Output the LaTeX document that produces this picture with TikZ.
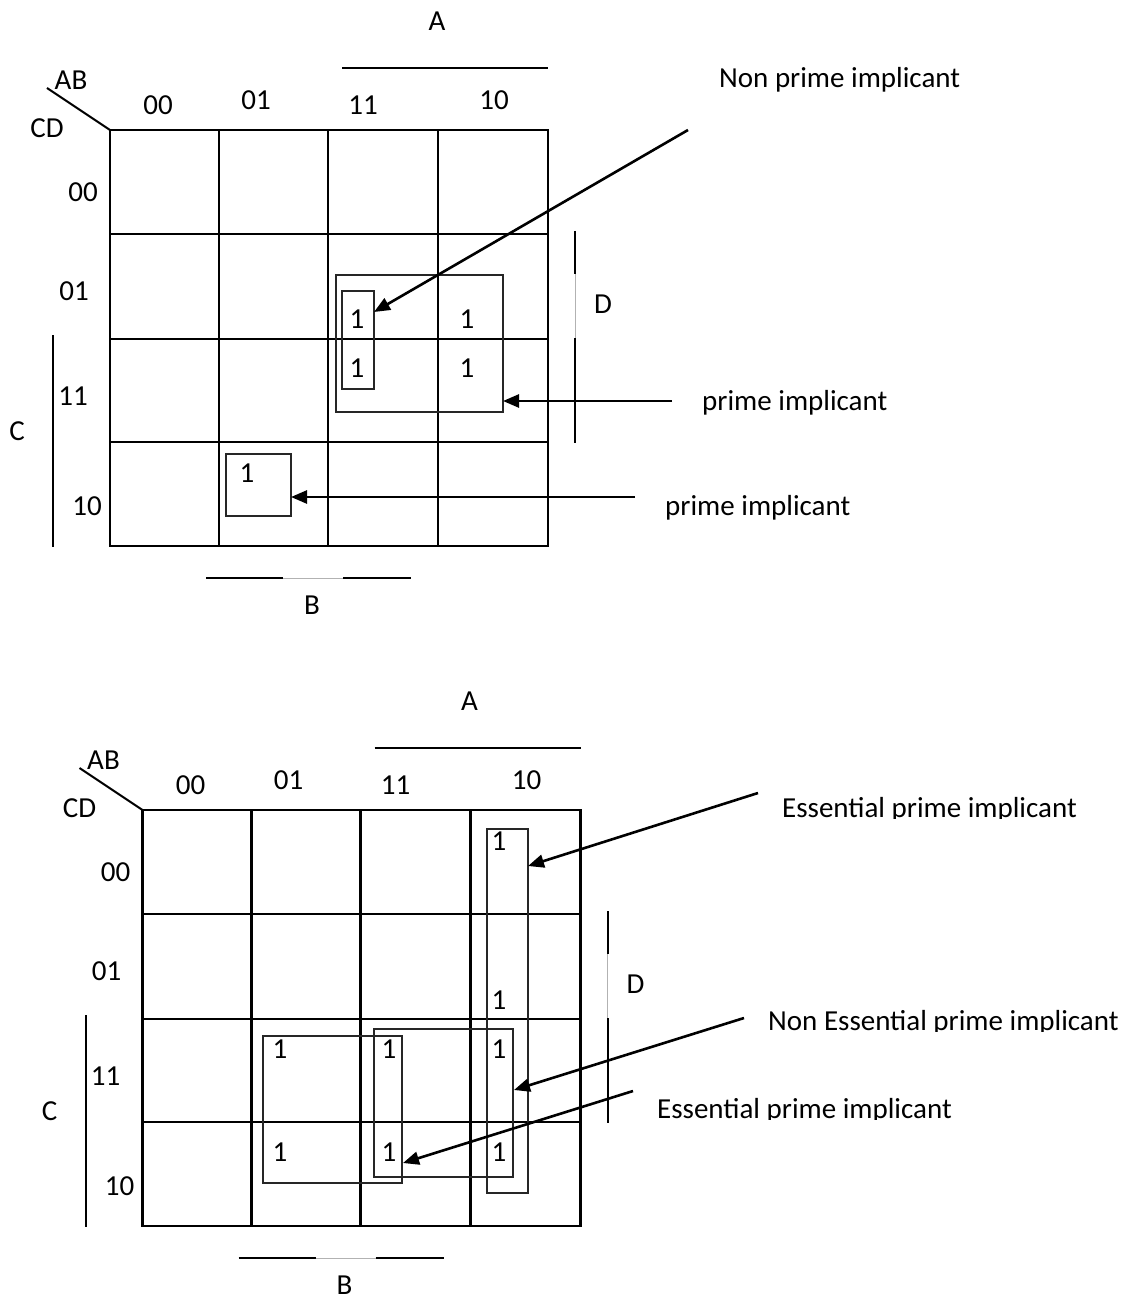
\documentclass[tikz,border=0pt]{standalone}
\usepackage{fontspec}
\setmainfont{Carlito}
\usetikzlibrary{arrows.meta}
\tikzset{
  lbl/.style={inner sep=0pt, font=\fontsize{29}{34}\selectfont},
  gridline/.style={line width=2.4pt},
  loopbox/.style={line width=2pt, draw=black!85},
  varline/.style={line width=2pt},
  gapline/.style={line width=1pt, draw=black!30},
  pointer/.style={line width=2.6pt, -{Triangle[length=16pt,width=13pt]}},
}
\begin{document}
\begin{tikzpicture}[x=1pt,y=-1pt]
\useasboundingbox (0,0) rectangle (1126,1297);
% ---------- two maps (common parts) ----------
\foreach \s/\n in {0/t,1/b}{
\begin{scope}[shift={(32.5*\s,680*\s)}]
  \draw[gridline] (110,130) rectangle (548,546);
  \foreach \xx in {219,328,438} \draw[gridline] (\xx,130) -- (\xx,546);
  \foreach \yy in {234,339,442} \draw[gridline] (110,\yy) -- (548,\yy);
  \coordinate (corner\n) at (110,130);
  \coordinate (diag\n) at (47,88);
  \draw[line width=2pt] (diag\n) -- (corner\n);
  \node[lbl] (AB\n) at (71,80) {AB};
  \node[lbl] (CD\n) at (47,128) {CD};
  \node[lbl] (c00\n) at (158,105) {00};
  \node[lbl] (c01\n) at (256,100) {01};
  \node[lbl] (c11\n) at (363,105) {11};
  \node[lbl] (c10\n) at (494,100) {10};
  \node[lbl] (r00\n) at (83,192) {00};
  \node[lbl] (r01\n) at (74,291) {01};
  \node[lbl] (r11\n) at (73,396) {11};
  \node[lbl] (r10\n) at (87,506) {10};
  % A
  \node[lbl] (A\n) at (437,21) {A};
  \draw[varline] (342,68) -- (548,68);
  % C
  \node[lbl] (C\n) at (17,431) {C};
  \draw[varline] (53,335) -- (53,547);
  % D
  \node[lbl] (D\n) at (603,304) {D};
  \draw[varline] (575,231) -- (575,274);
  \draw[gapline] (575,274) -- (575,338);
  \draw[varline] (575,338) -- (575,443);
  % B
  \node[lbl] (B\n) at (312,605.5) {B};
  \draw[varline] (206,578) -- (283,578);
  \draw[gapline] (283,578) -- (343,578);
  \draw[varline] (343,578) -- (411,578);
\end{scope}
}
% ---------- top map entries ----------
\node[lbl] (t1a) at (357,319) {1};
\node[lbl] (t1b) at (467,319) {1};
\node[lbl] (t1c) at (357,368) {1};
\node[lbl] (t1d) at (467,368) {1};
\node[lbl] (t1e) at (247,473) {1};
\draw[loopbox] (336,275) rectangle (503,412);
\draw[loopbox] (342,291) rectangle (374,389);
\draw[loopbox] (226,454) rectangle (291,516);
\coordinate (tipA) at (374,312);
\coordinate (tipB) at (503,401);
\coordinate (tipC) at (291,497);
\coordinate (tailA) at (688,130);
\coordinate (tailB) at (672,401);
\coordinate (tailC) at (635,497);
\draw[pointer] (tailA) -- (tipA);
\draw[pointer] (tailB) -- (tipB);
\draw[pointer] (tailC) -- (tipC);
\node[lbl, anchor=base west] (npi) at (719,88) {Non prime implicant};
\node[lbl, anchor=base west] (pi1) at (702,410) {prime implicant};
\node[lbl, anchor=base west] (pi2) at (665,515) {prime implicant};
% ---------- bottom map entries ----------
\node[lbl] (b1a) at (499,841) {1};
\node[lbl] (b1b) at (499,1000) {1};
\node[lbl] (b1c) at (280,1049) {1};
\node[lbl] (b1d) at (389,1049) {1};
\node[lbl] (b1e) at (499,1049) {1};
\node[lbl] (b1f) at (280,1152) {1};
\node[lbl] (b1g) at (389,1152) {1};
\node[lbl] (b1h) at (499,1152) {1};
\draw[loopbox] (487,829) rectangle (528,1193);
\draw[loopbox] (374,1029) rectangle (513,1177);
\draw[loopbox] (263,1036) rectangle (402,1183);
\coordinate (tipD) at (528,866);
\coordinate (tipE) at (514,1090);
\coordinate (tipF) at (403,1163);
\coordinate (tailD) at (758,793);
\coordinate (tailE) at (744,1018);
\coordinate (tailF) at (633,1091);
\draw[pointer] (tailD) -- (tipD);
\draw[pointer] (tailE) -- (tipE);
\draw[pointer] (tailF) -- (tipF);
\begin{scope}
  \clip (760,780) rectangle (1126,818);
  \node[lbl, anchor=base west] (epi1) at (782,817) {Essential prime implicant};
\end{scope}
\begin{scope}
  \clip (760,995) rectangle (1126,1031);
  \node[lbl, anchor=base west] (nepi) at (768,1030) {Non Essential prime implicant};
\end{scope}
\begin{scope}
  \clip (640,1085) rectangle (1126,1119);
  \node[lbl, anchor=base west] (epi2) at (657,1118) {Essential prime implicant};
\end{scope}
\end{tikzpicture}
\end{document}
